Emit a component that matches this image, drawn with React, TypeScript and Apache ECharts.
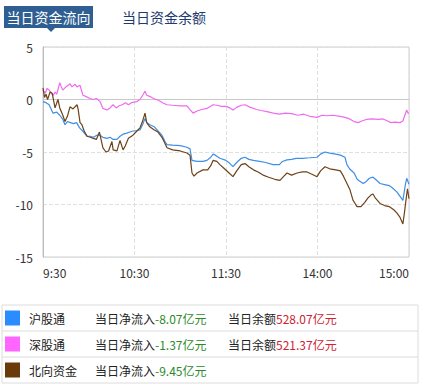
import React, { useEffect, useRef } from "react";
import * as echarts from "echarts";

const timeLabels = ["9:30", "10:30", "11:30", "14:00", "15:00"];
const yTicks = { min: -15, max: 5, interval: 5 };

const seriesNames = ["沪股通", "深股通", "北向资金"];
const lineColors = ["#3d8fe8", "#f06af0", "#6e4219"];
const swatchColors = ["#2b8cff", "#ff66ff", "#6b3a0b"];
const netInflow = ["-8.07", "-1.37", "-9.45"];
const balance = ["528.07", "521.37", ""];

// [minute since 9:30 (trading minutes), value in 亿元]
const shData: [number, number][] = [
  [0, -0.2], [2, -0.3], [4, -0.5], [6.6, -1.3], [9, -1.2], [11, -1.5], [13, -1.9], [14.4, -2.4],
  [16, -2.1], [18, -2.2], [20, -2.3], [22, -2.2], [24, -2.7], [26, -3.0], [28.9, -3.5], [31, -3.5],
  [33, -3.6], [35.4, -3.4], [37.4, -3.4], [39.3, -3.6], [42, -3.7], [44, -3.6], [46, -3.8], [48.5, -3.8],
  [50.5, -3.5], [52.5, -3.3], [55, -3.2], [57, -3.1], [59, -3.0], [61.6, -2.95], [63.6, -2.9], [65.6, -2.3],
  [66.9, -1.8], [68, -2.2], [70, -2.4], [73, -2.6], [75.4, -3.0], [78, -3.4], [80, -4.0], [81.3, -4.3],
  [85, -4.35], [90, -4.4], [94.4, -4.55], [96.4, -4.7], [97.7, -5.8], [101, -5.9], [105, -5.9], [107.5, -5.8],
  [110, -5.5], [111.5, -5.2], [113, -5.3], [116, -5.6], [120, -5.8], [122.6, -6.1], [124.6, -6.4], [127, -6.0],
  [130, -5.6], [132.5, -5.5], [135, -5.7], [138, -5.8], [142, -5.9], [146, -6.0], [150.8, -6.2], [155, -6.2],
  [157, -5.9], [160, -5.75], [163, -5.7], [166, -5.6], [170, -5.6], [175, -5.55], [179.7, -5.5], [182, -5.2],
  [184.9, -5.0], [188, -5.1], [192, -5.2], [195, -5.3], [198, -5.5], [199.3, -6.2], [201, -6.6], [204, -7.0],
  [206, -7.6], [208, -7.8], [210, -8.0], [212, -7.8], [214, -7.5], [216.4, -7.4], [218, -7.6], [221, -8.0],
  [224, -8.1], [227, -8.2], [229, -8.4], [232, -8.8], [234, -9.2], [236, -9.6], [237.5, -8.2], [238.5, -7.5],
  [240, -8.07],
];

const szData: [number, number][] = [
  [0, 0.9], [1.5, 0.6], [2.6, 1.05], [4, 0.9], [6.6, 0.4], [8, 0.7], [9, 0.5], [11, 1.6], [12, 1.2],
  [13, 0.9], [15, 1.2], [17.7, 1.5], [19, 1.2], [21, 1.45], [22.3, 1.2], [24.3, 1.35], [25, 1.0], [26.2, 0.4],
  [28, 0.3], [30.8, 0.1], [33, 0.0], [35, 0.1], [37.4, -0.2], [39.3, -0.85], [42, -1.0], [44, -0.8],
  [45.9, -0.5], [48, -0.8], [50, -0.6], [52, -0.5], [54, -0.3], [56, -0.5], [58, -0.3], [61.6, -0.2],
  [63.6, 0.0], [65.6, 0.45], [66.9, 0.8], [68, 0.4], [70, 0.3], [72, 0.15], [73.4, 0.05], [76, -0.1],
  [79, -0.35], [81.3, -0.5], [85, -0.55], [90, -0.6], [94.4, -0.6], [96, -0.9], [98.4, -1.3], [101, -1.1],
  [104, -0.95], [107.5, -0.85], [111.5, -0.5], [114, -0.55], [117, -0.65], [120, -0.65], [122.6, -0.8],
  [124.6, -1.0], [127, -0.75], [130, -0.55], [132.5, -0.5], [136, -0.75], [140, -0.95], [143, -1.05],
  [146.9, -1.16], [151, -1.3], [155, -1.4], [159, -1.3], [163, -1.35], [167, -1.5], [171, -1.4], [175, -1.6],
  [179.7, -1.7], [183, -1.5], [186, -1.55], [190, -1.5], [194.8, -1.6], [198, -1.7], [201, -1.85], [204, -2.1],
  [206.6, -2.2], [209, -2.05], [212, -1.9], [216, -1.85], [220, -1.9], [223, -1.85], [226, -2.05], [228, -2.2],
  [231, -2.15], [234.1, -2.2], [236, -2.05], [237.5, -1.4], [238.5, -1.0], [239.3, -1.3], [240, -1.3],
];

const nbData: [number, number][] = [
  [0, 1.1], [1, 0.2], [2, 0.5], [3, 0.0], [4.6, 0.7], [6, 0.6], [7.9, -0.8], [9.8, 0.0], [11, -0.8],
  [13, -1.5], [14.4, -2.1], [16, -1.6], [17.7, -0.7], [19.7, -0.9], [22.3, -0.5], [23, -0.9], [24.3, -2.2],
  [25.5, -2.4], [27, -3.0], [28.9, -3.5], [31, -3.6], [33, -3.7], [35, -3.8], [37, -3.1], [39.3, -4.6],
  [41.3, -5.0], [43, -4.9], [45.2, -4.0], [46, -4.8], [48.5, -4.9], [50.5, -3.9], [52.5, -4.8], [54, -4.4],
  [56, -3.7], [59, -3.4], [61.6, -3.0], [63.6, -2.7], [65, -2.2], [66.9, -1.3], [68, -2.2], [70, -2.6],
  [73, -2.9], [75.4, -3.1], [78, -3.6], [80, -4.2], [81.3, -4.6], [85, -4.8], [90, -4.9], [94.4, -5.1],
  [96.4, -5.3], [97.7, -7.0], [99, -7.3], [101, -7.0], [104.9, -6.7], [108, -6.7], [110, -6.3], [111.5, -5.8],
  [114, -5.9], [116, -6.2], [119, -6.6], [122, -7.0], [124.6, -7.35], [127, -6.8], [130, -6.2], [132.5, -6.1],
  [135, -6.4], [138, -6.7], [141, -6.9], [144.3, -7.2], [148, -7.4], [152, -7.6], [155.4, -7.7], [158, -7.3],
  [160, -7.0], [163, -7.2], [166.6, -7.0], [170, -6.9], [173.1, -6.9], [176, -7.1], [179.7, -7.35], [182, -6.8],
  [184.9, -6.4], [188, -6.6], [192, -6.7], [195, -6.8], [197, -7.3], [199, -7.9], [201.3, -8.6], [203.3, -9.6],
  [205.9, -10.2], [208.5, -10.2], [211, -9.8], [213, -9.4], [215, -9.1], [216.4, -9.0], [218, -9.4], [221, -9.9],
  [224, -10.1], [227, -10.2], [230, -10.5], [232, -10.8], [234, -11.2], [236, -11.85], [237, -10.8], [238, -9.6],
  [239, -8.5], [240, -9.45],
];

const seriesData = [shData, szData, nbData];
const FONT = "'Noto Sans CJK SC', 'Noto Sans', sans-serif";

export default function App() {
  const ref = useRef<HTMLDivElement>(null);
  useEffect(() => {
    document.body.style.margin = "0";
    const chart = echarts.init(ref.current!, null, { renderer: "svg" });

    const rowTop = 305;
    const rowH = 26;
    const graphics: any[] = [
      { type: "rect", shape: { x: 4, y: 6, width: 89, height: 22 }, style: { fill: "#2f5f92" } },
      { type: "polygon", shape: { points: [[46, 27], [56, 27], [51, 32]] }, style: { fill: "#2f5f92" } },
      {
        type: "text", x: 48.5, y: 17,
        style: { text: "当日资金流向", fill: "#ffffff", font: `14px ${FONT}`, align: "center", verticalAlign: "middle" },
      },
      {
        type: "text", x: 164, y: 17,
        style: { text: "当日资金余额", fill: "#1d3b6e", font: `14px ${FONT}`, align: "center", verticalAlign: "middle" },
      },
      { type: "rect", shape: { x: 2, y: rowTop, width: 416, height: rowH * 3 }, style: { fill: "none", stroke: "#dcdcdc", lineWidth: 1 } },
    ];
    seriesNames.forEach((name, i) => {
      const top = rowTop + i * rowH;
      const cy = top + rowH / 2;
      if (i > 0) {
        graphics.push({ type: "line", shape: { x1: 2, y1: top, x2: 418, y2: top }, style: { stroke: "#dcdcdc", lineWidth: 1 } });
      }
      graphics.push({ type: "rect", shape: { x: 5, y: cy - 7.5, width: 15, height: 15 }, style: { fill: swatchColors[i] } });
      graphics.push({
        type: "text", x: 29, y: cy,
        style: { text: name, fill: "#222", font: `12px ${FONT}`, verticalAlign: "middle" },
      });
      graphics.push({
        type: "text", x: 95, y: cy,
        style: {
          text: `{a|当日净流入}{g|${netInflow[i]}亿元}`,
          verticalAlign: "middle",
          rich: {
            a: { fill: "#222", font: `12px ${FONT}` },
            g: { fill: "#2a8a2a", font: `12px ${FONT}` },
          },
        },
      });
      if (balance[i]) {
        graphics.push({
          type: "text", x: 228, y: cy,
          style: {
            text: `{a|当日余额}{r|${balance[i]}亿元}`,
            verticalAlign: "middle",
            rich: {
              a: { fill: "#222", font: `12px ${FONT}` },
              r: { fill: "#cc2233", font: `12px ${FONT}` },
            },
          },
        });
      }
    });

    chart.setOption({
      animation: false,
      grid: { left: 43, right: 13, top: 47, bottom: 128, show: true, borderColor: "#cccccc", borderWidth: 1 },
      xAxis: {
        type: "value",
        min: 0,
        max: 240,
        interval: 60,
        axisLine: { show: true, lineStyle: { color: "#c8c8c8" } },
        axisTick: { show: false },
        axisLabel: {
          color: "#333",
          fontSize: 12,
          fontFamily: FONT,
          margin: 9,
          alignMinLabel: "left",
          alignMaxLabel: "right",
          formatter: (v: number) => timeLabels[Math.round(v / 60)] ?? "",
        },
        splitLine: { show: true, lineStyle: { color: "#e0e0e0", type: "dashed" } },
      },
      yAxis: {
        type: "value",
        min: yTicks.min,
        max: yTicks.max,
        interval: yTicks.interval,
        axisLine: { show: true, lineStyle: { color: "#bbbbbb" } },
        axisTick: { show: false },
        axisLabel: { color: "#333", fontSize: 12, fontFamily: FONT, margin: 10 },
        splitLine: { show: true, lineStyle: { color: "#e0e0e0", type: "dashed" } },
      },
      series: seriesNames.map((name, i) => ({
        name,
        type: "line",
        data: seriesData[i],
        showSymbol: false,
        symbol: "none",
        lineStyle: { color: lineColors[i], width: 1.2 },
        z: i === 2 ? 3 : 2,
      })),
      graphic: graphics,
    });
    return () => chart.dispose();
  }, []);
  return <div ref={ref} style={{ position: "absolute", left: 0, top: 0, width: 422, height: 385 }} />;
}
